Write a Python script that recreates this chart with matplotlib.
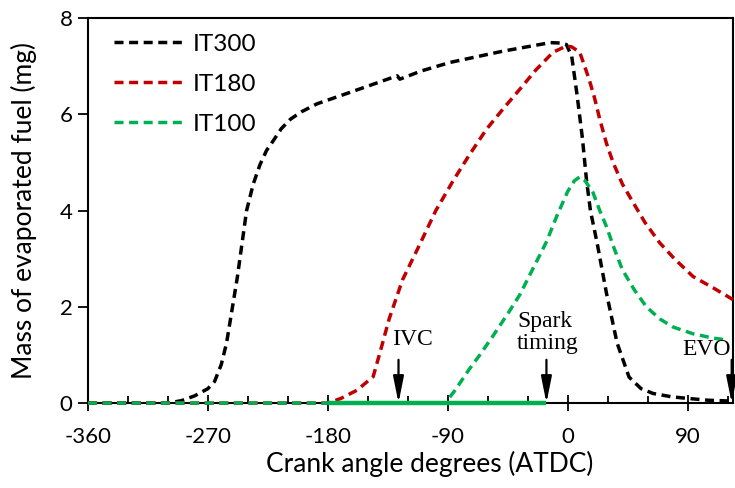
import matplotlib
matplotlib.use("Agg")
import matplotlib.pyplot as plt
from matplotlib.ticker import MultipleLocator

# crank angle (deg ATDC) and evaporated fuel mass (mg)
it300_x = [-360, -300, -290, -280, -270, -265, -260, -256, -248, -241, -236, -231, -226, -221, -215,
           -208, -200, -188, -164, -128, -126, -110, -88, -49, -25, -13, -5, -1, 3, 7, 11, 14, 17,
           22, 29, 37, 46, 55, 64, 78, 89, 105, 124]
it300_y = [0, 0, 0.05, 0.15, 0.3, 0.45, 0.8, 1.25, 2.6, 4.0, 4.55, 4.95, 5.25, 5.45, 5.7,
           5.9, 6.05, 6.22, 6.45, 6.8, 6.73, 6.9, 7.08, 7.31, 7.43, 7.49, 7.48, 7.45, 7.2, 6.4, 5.5, 4.65, 4.0,
           3.33, 2.29, 1.25, 0.54, 0.3, 0.2, 0.13, 0.1, 0.06, 0.04]

it180_x = [-360, -180, -170, -158, -146, -141, -134, -124, -111, -99, -86, -74, -61, -48, -36,
           -24, -11, -1, 3, 9, 16, 20, 24, 29, 34, 41, 49, 58, 69, 80, 94, 110, 124]
it180_y = [0, 0, 0.1, 0.27, 0.55, 1.04, 1.75, 2.56, 3.3, 4.0, 4.62, 5.15, 5.69, 6.13, 6.52,
           6.92, 7.29, 7.42, 7.4, 7.29, 6.73, 6.35, 5.9, 5.4, 5.0, 4.55, 4.17, 3.75, 3.33, 3.0, 2.63, 2.38, 2.15]

it100_x = [-360, -92, -85, -74, -66, -56, -44, -36, -26, -16, -8, 0, 5, 9, 13, 19, 24, 29,
           35, 41, 50, 59, 69, 79, 94, 109, 120]
it100_y = [0, 0, 0.25, 0.7, 1.0, 1.4, 1.9, 2.25, 2.8, 3.35, 3.9, 4.4, 4.62, 4.7, 4.62, 4.37, 4.0, 3.67,
           3.2, 2.77, 2.35, 2.0, 1.75, 1.58, 1.44, 1.35, 1.31]

# solid green segment on the axis between -180 and spark timing
green_base_x = [-180, -16]
green_base_y = [0, 0]

events = ["IVC", "Spark\ntiming", "EVO"]
event_x = [-127, -16, 123]
event_text_x = [-132, -38, 86]
event_text_y = [1.2, 1.13, 1.0]

plt.rcParams["font.family"] = ["Lato", "DejaVu Sans"]
plt.rcParams["axes.unicode_minus"] = False

fig = plt.figure(figsize=(7.35, 4.88), dpi=100)
ax = fig.add_axes([0.1197, 0.174, 0.8776, 0.789])

dash = (2.6, 1.6)
ax.plot(it300_x, it300_y, color="black", lw=2.5, dashes=dash, label="IT300", zorder=3, clip_on=False)
ax.plot(it180_x, it180_y, color="#C00000", lw=2.5, dashes=dash, label="IT180", zorder=3, clip_on=False)
ax.plot(it100_x, it100_y, color="#00B050", lw=2.5, dashes=dash, label="IT100", zorder=3, clip_on=False)
ax.plot(green_base_x, green_base_y, color="#00B050", lw=3.2, solid_capstyle="butt", zorder=3.5,
        clip_on=False)

for name, xv, tx, ty in zip(events, event_x, event_text_x, event_text_y):
    ax.annotate("", xy=(xv, 0), xytext=(xv, 0.9),
                arrowprops=dict(arrowstyle="-|>,head_width=0.32,head_length=1.6",
                                color="black", lw=1.6, shrinkA=0, shrinkB=0), zorder=4)
    ax.text(tx, ty, name, family="Liberation Serif", fontsize=17, ha="left", va="baseline",
            linespacing=1.05)

ax.set_xlim(-360, 124)
ax.set_ylim(0, 8)
ax.xaxis.set_major_locator(MultipleLocator(90))
ax.xaxis.set_minor_locator(MultipleLocator(30))
ax.yaxis.set_major_locator(MultipleLocator(2))
ax.tick_params(axis="x", which="major", direction="inout", length=11, width=1.3, labelsize=16, pad=12)
ax.tick_params(axis="x", which="minor", direction="in", length=5, width=1.3)
ax.tick_params(axis="y", which="major", direction="out", length=7, width=1.3, labelsize=16, pad=4)
for s in ax.spines.values():
    s.set_linewidth(1.5)

ax.set_xlabel("Crank angle degrees (ATDC)", fontsize=19)
ax.set_ylabel("Mass of evaporated fuel (mg)", fontsize=19)
ax.xaxis.set_label_coords(0.53, -0.125)
ax.yaxis.set_label_coords(-0.079, 0.5)

ax.legend(loc="upper left", bbox_to_anchor=(0.016, 1.0), frameon=False, fontsize=17.5,
          handlelength=2.9, labelspacing=0.78, borderaxespad=0.2, handletextpad=0.35,
          borderpad=0.45)

fig.savefig("out.png", dpi=100)
